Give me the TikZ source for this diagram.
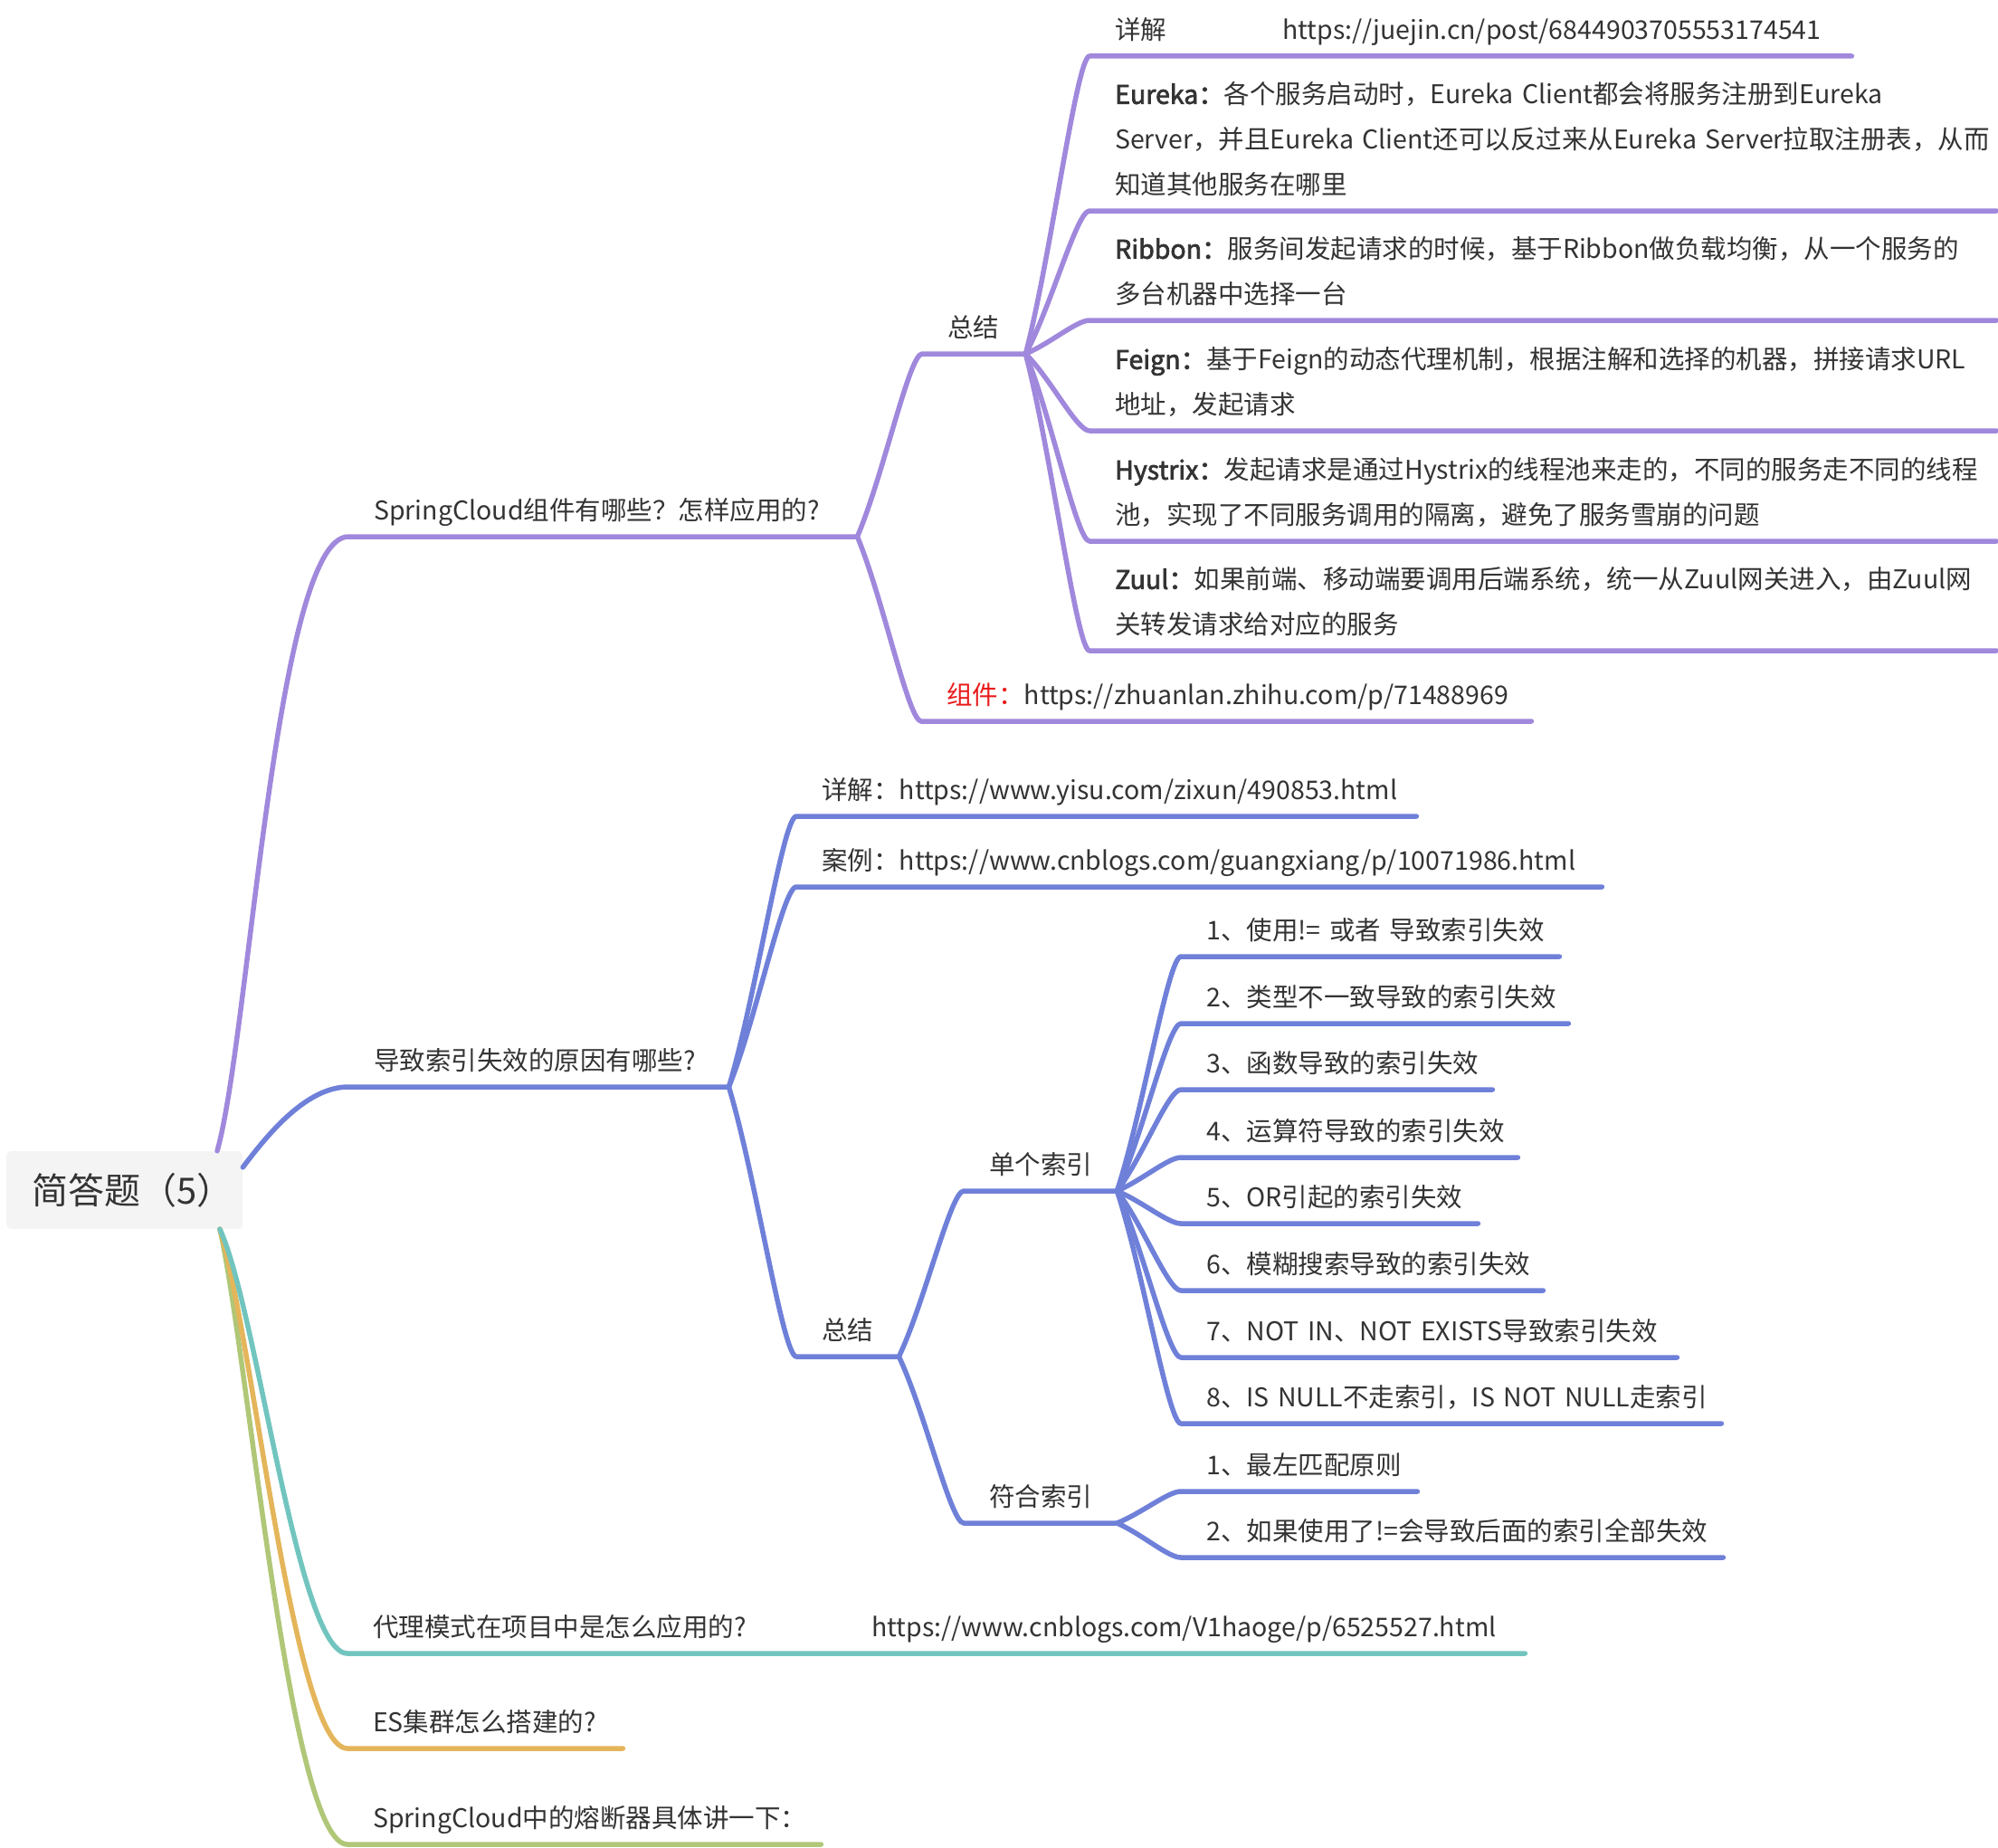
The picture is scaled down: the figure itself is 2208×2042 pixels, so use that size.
\documentclass[tikz,border=0pt]{standalone}
\usepackage{fontspec}
\setmainfont{Noto Sans CJK SC}[AutoFakeBold=2.5]
\usepackage{tikz}
\usetikzlibrary{calc}
\definecolor{ink}{HTML}{333333}
\definecolor{rootfill}{HTML}{F4F4F4}
\definecolor{sc}{HTML}{A088DC}
\definecolor{idx}{HTML}{6F80D9}
\definecolor{proxy}{HTML}{72C5BF}
\definecolor{es}{HTML}{E4B55A}
\definecolor{breaker}{HTML}{B0C778}
\definecolor{hot}{HTML}{E81B1B}
\tikzstyle{root} = [rectangle, anchor=west, rounded corners=5pt, fill=rootfill, text width=205pt, inner xsep=28pt, minimum height=86pt, align=left, text=ink, font=\fontsize{40pt}{48pt}\selectfont]
\tikzstyle{topic} = [anchor=south west, inner xsep=28pt, inner ysep=18pt, text depth=0pt, align=left, text=ink, font=\fontsize{28.5pt}{50pt}\selectfont, execute at begin node={\hyphenpenalty10000\relax}]
\tikzstyle{branch} = [line width=5.5pt, line cap=round, line join=round]
\tikzstyle{fan} = [to path={let \p1=(\tikztostart), \p2=(\tikztotarget) in .. controls ({0.6*\x1+0.4*\x2},{0.67*\y1+0.33*\y2}) and ({0.2*\x1+0.8*\x2},\y2) .. (\tikztotarget)}]

\begin{document}
\begin{tikzpicture}[x=1pt, y=-1pt]
      \useasboundingbox (0,0) rectangle (2208,2042);
      \node [root] (root) at (7,1315) {简答题（5）};

      % SpringCloud
      \node [topic, text width=506pt] (sc) at (385,593) {SpringCloud组件有哪些？怎样应用的?};
      \node [topic, text width=58pt] (scsum) at (1019,391) {总结};
      \node [topic, text width=618pt] (scref) at (1018,797) {\textcolor{hot}{组件：}https://zhuanlan.zhihu.com/p/71488969};
      \node [topic, text width=786pt] (scdetail) at (1204,62) {\makebox[185pt][l]{详解}https://juejin.cn/post/6844903705553174541};
      \node [topic, text width=946pt, text depth=100pt] (eureka) at (1204,233) {\textbf{Eureka：}各个服务启动时，Eureka~Client都会将服务注册到Eureka\\Server，并且Eureka~Client还可以反过来从Eureka~Server拉取注册表，从而\\知道其他服务在哪里};
      \node [topic, text width=946pt, text depth=50pt] (ribbon) at (1204,354) {\textbf{Ribbon：}服务间发起请求的时候，基于Ribbon做负载均衡，从一个服务的\\多台机器中选择一台};
      \node [topic, text width=946pt, text depth=50pt] (feign) at (1204,476) {\textbf{Feign：}基于Feign的动态代理机制，根据注解和选择的机器，拼接请求URL\\地址，发起请求};
      \node [topic, text width=946pt, text depth=50pt] (hystrix) at (1204,598) {\textbf{Hystrix：}发起请求是通过Hystrix的线程池来走的，不同的服务走不同的线程\\池，实现了不同服务调用的隔离，避免了服务雪崩的问题};
      \node [topic, text width=946pt, text depth=50pt] (zuul) at (1204,719) {\textbf{Zuul：}如果前端、移动端要调用后端系统，统一从Zuul网关进入，由Zuul网\\关转发请求给对应的服务};

      % index
      \node [topic, text width=364pt] (idx) at (385,1201) {导致索引失效的原因有哪些?};
      \node [topic, text width=629pt] (idxdetail) at (880,902) {详解：https://www.yisu.com/zixun/490853.html};
      \node [topic, text width=834pt] (idxcase) at (880,980) {案例：https://www.cnblogs.com/guangxiang/p/10071986.html};
      \node [topic, text width=57pt] (idxsum) at (880,1499) {总结};
      \node [topic, text width=113pt] (single) at (1065,1316) {单个索引};
      \node [topic, text width=113pt] (combo) at (1065,1683) {符合索引};
      \node [topic, text width=362pt] (s1) at (1305,1057) {1、使用!=~或者~导致索引失效};
      \node [topic, text width=372pt] (s2) at (1305,1131) {2、类型不一致导致的索引失效};
      \node [topic, text width=288pt] (s3) at (1305,1204) {3、函数导致的索引失效};
      \node [topic, text width=316pt] (s4) at (1305,1279) {4、运算符导致的索引失效};
      \node [topic, text width=272pt] (s5) at (1305,1352) {5、OR引起的索引失效};
      \node [topic, text width=344pt] (s6) at (1305,1426) {6、模糊搜索导致的索引失效};
      \node [topic, text width=492pt] (s7) at (1305,1500) {7、NOT~IN、NOT~EXISTS导致索引失效};
      \node [topic, text width=541pt] (s8) at (1305,1573) {8、IS~NULL不走索引，IS~NOT~NULL走索引};
      \node [topic, text width=205pt] (c1) at (1305,1648) {1、最左匹配原则};
      \node [topic, text width=543pt] (c2) at (1305,1721) {2、如果使用了!=会导致后面的索引全部失效};

      % others
      \node [topic, text width=408pt] (proxy) at (384,1827) {代理模式在项目中是怎么应用的?};
      \node [topic, text width=694pt] (proxyref) at (935,1827) {https://www.cnblogs.com/V1haoge/p/6525527.html};
      \node [topic, text width=248pt] (es) at (384,1932) {ES集群怎么搭建的?};
      \node [topic, text width=467pt] (breaker) at (384,2038) {SpringCloud中的熔断器具体讲一下：};

      % root branches
      \path [branch, draw=breaker] ([xshift=236pt]root.south west) .. controls +(32,142) and +(-64,0) .. (breaker.south west) -- (breaker.south east);
      \path [branch, draw=es] ([xshift=236pt]root.south west) .. controls +(37,122) and +(-59,0) .. (es.south west) -- (es.south east);
      \path [branch, draw=proxy] ([xshift=236pt]root.south west) .. controls +(42,92) and +(-55,0) .. (proxy.south west) -- (proxy.south east) -- (proxyref.south west) -- (proxyref.south east);
      \path [branch, draw=sc] ([xshift=233pt]root.north west) .. controls +(35,-122) and +(-80,0) .. (sc.south west) -- (sc.south east);
      \path [branch, draw=idx] ([yshift=-18pt]root.north east) .. controls +(30,-40) and +(-45,0) .. (idx.south west) -- (idx.south east);

      % SpringCloud children
      \path [branch, draw=sc] (sc.south east) to[fan] (scsum.south west) -- (scsum.south east);
      \path [branch, draw=sc] (sc.south east) to[fan] (scref.south west) -- (scref.south east);
      \path [branch, draw=sc] (scsum.south east) to[fan] (scdetail.south west) -- (scdetail.south east);
      \path [branch, draw=sc] (scsum.south east) to[fan] (eureka.south west) -- (eureka.south east);
      \path [branch, draw=sc] (scsum.south east) to[fan] (ribbon.south west) -- (ribbon.south east);
      \path [branch, draw=sc] (scsum.south east) to[fan] (feign.south west) -- (feign.south east);
      \path [branch, draw=sc] (scsum.south east) to[fan] (hystrix.south west) -- (hystrix.south east);
      \path [branch, draw=sc] (scsum.south east) to[fan] (zuul.south west) -- (zuul.south east);

      % index children
      \path [branch, draw=idx] (idx.south east) to[fan] (idxdetail.south west) -- (idxdetail.south east);
      \path [branch, draw=idx] (idx.south east) to[fan] (idxcase.south west) -- (idxcase.south east);
      \path [branch, draw=idx] (idx.south east) to[fan] (idxsum.south west) -- (idxsum.south east);
      \path [branch, draw=idx] (idxsum.south east) to[fan] (single.south west) -- (single.south east);
      \path [branch, draw=idx] (idxsum.south east) to[fan] (combo.south west) -- (combo.south east);
      \path [branch, draw=idx] (single.south east) to[fan] (s1.south west) -- (s1.south east);
      \path [branch, draw=idx] (single.south east) to[fan] (s2.south west) -- (s2.south east);
      \path [branch, draw=idx] (single.south east) to[fan] (s3.south west) -- (s3.south east);
      \path [branch, draw=idx] (single.south east) to[fan] (s4.south west) -- (s4.south east);
      \path [branch, draw=idx] (single.south east) to[fan] (s5.south west) -- (s5.south east);
      \path [branch, draw=idx] (single.south east) to[fan] (s6.south west) -- (s6.south east);
      \path [branch, draw=idx] (single.south east) to[fan] (s7.south west) -- (s7.south east);
      \path [branch, draw=idx] (single.south east) to[fan] (s8.south west) -- (s8.south east);
      \path [branch, draw=idx] (combo.south east) to[fan] (c1.south west) -- (c1.south east);
      \path [branch, draw=idx] (combo.south east) to[fan] (c2.south west) -- (c2.south east);
    \end{tikzpicture}
\end{document}
